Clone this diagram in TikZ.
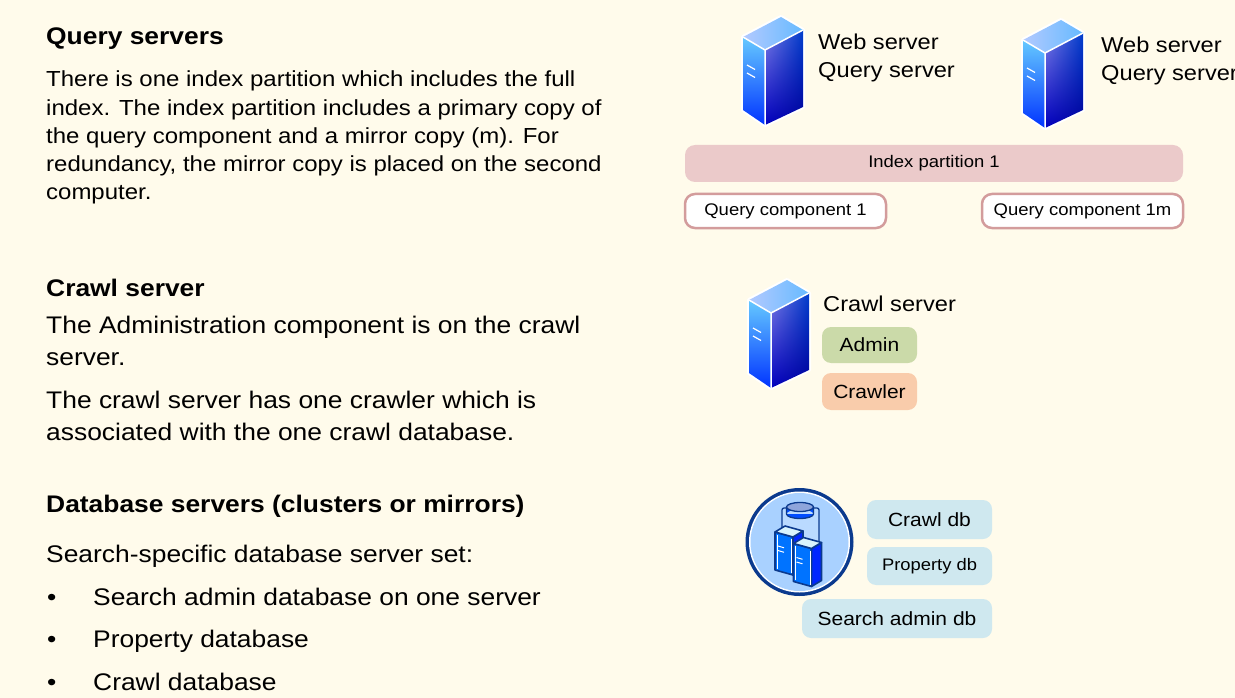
\documentclass[tikz,border=0pt]{standalone}
\usepackage{fontspec}
\setmainfont{Liberation Sans}[FakeStretch=1.1]
\usetikzlibrary{shadings}

\definecolor{paper}{HTML}{FFFBEB}
\definecolor{idxpink}{HTML}{EBCACA}
\definecolor{qcedge}{HTML}{D39C9C}
\definecolor{admingreen}{HTML}{CBDAA9}
\definecolor{crawlerpeach}{HTML}{F9CCAB}
\definecolor{dbblue}{HTML}{CFE8EF}
\definecolor{navy}{HTML}{0B3A8E}
\definecolor{dblight}{HTML}{A9D1FF}

\tikzset{
	heading/.style={anchor=base west, inner sep=0pt, font=\fontsize{24}{28}\selectfont\bfseries},
	smalltext/.style={anchor=base west, inner sep=0pt, font=\fontsize{21.8}{26}\selectfont},
	bigtext/.style={anchor=base west, inner sep=0pt, font=\fontsize{24}{28}\selectfont},
	srvtext/.style={anchor=base west, inner sep=0pt, font=\fontsize{21.5}{26}\selectfont},
	compbox/.style={rounded corners=10pt, inner sep=0pt, font=\fontsize{16.8}{20}\selectfont},
	rolebox/.style={rounded corners=9pt, inner sep=0pt, minimum width=95pt, font=\fontsize{19.1}{22}\selectfont},
	servericon/.pic={
		\draw[white, fill=white, line width=4pt, line join=round] (0,0) -- (38,-20) -- (60,-7) -- (60,70) -- (22,88) -- (0,73) -- cycle;
		\shade[top color=blue!35!cyan!60, bottom color=blue!80!cyan] (0,0) -- (22,13) -- (22,88) -- (0,73) -- cycle;
		\shade[upper left=blue!45!white!90!black, upper right=blue!70!cyan!80!black, lower left=blue!75!black, lower right=blue!60!black] (22,13) -- (60,-7) -- (60,70) -- (22,88) -- cycle;
		\shade[left color=cyan!30!blue!30, right color=cyan!55!blue!60] (0,0) -- (38,-20) -- (60,-7) -- (22,13) -- cycle;
		\draw[white, line width=1.5pt] (0,0) -- (22,13) -- (60,-7) (22,13) -- (22,88);
		\draw[white, line width=1.2pt] (4,28) -- (12,32.5) (4,36) -- (12,40.5);
	}
}

\begin{document}
\begin{tikzpicture}[x=1pt, y=-1pt]
	\useasboundingbox (0,0) rectangle (1235,698);
	\fill[paper] (0,0) rectangle (1235,698);

	% left column
	\node[heading] (qshead) at (46,45) {Query servers};
	\foreach \y/\txt [count=\i] in {87/There is one index partition which includes the full,
			115.25/index. The index partition includes a primary copy of,
			143.5/the query component and a mirror copy (m). For,
			171.75/{redundancy, the mirror copy is placed on the second},
			200/computer.}
		\node[smalltext] (qs\i) at (46,\y) {\txt};

	\node[heading] (cshead) at (46,296) {Crawl server};
	\foreach \y/\txt [count=\i] in {333/The Administration component is on the crawl,
			365/server.,
			408/The crawl server has one crawler which is,
			440/associated with the one crawl database.}
		\node[bigtext] (cs\i) at (46,\y) {\txt};

	\node[heading] (dbhead) at (46,512) {Database servers (clusters or mirrors)};
	\node[bigtext] (dbintro) at (46,562) {Search-specific database server set:};
	\foreach \y/\txt [count=\i] in {605/Search admin database on one server, 647/Property database, 690/Crawl database} {
		\node[bigtext] (dot\i) at (47,\y) {\textbullet};
		\node[bigtext] (db\i) at (93,\y) {\txt};
	}

	% query servers
	\pic (srv1) at (743,37) {servericon};
	\pic (srv2) at (1023,40) {servericon};
	\node[srvtext] (web1) at (818,50) {Web server};
	\node[srvtext] (qry1) at (818,78) {Query server};
	\node[srvtext] (web2) at (1101,53) {Web server};
	\node[srvtext] (qry2) at (1101,81) {Query server};

	\node[compbox, fill=idxpink, minimum width=498pt, minimum height=37pt] (idx) at (934,163.5) {Index partition 1};
	\node[compbox, fill=white, draw=qcedge, line width=2.5pt, minimum width=201pt, minimum height=34pt] (qc1) at (785.5,211) {Query component 1};
	\node[compbox, fill=white, draw=qcedge, line width=2.5pt, minimum width=201pt, minimum height=34pt] (qc1m) at (1082.5,211) {Query component 1m};

	% crawl server
	\pic (srv3) at (749,300) {servericon};
	\node[srvtext] (crawlsrv) at (823,311) {Crawl server};
	\node[rolebox, fill=admingreen, minimum height=36pt] (admin) at (869.5,345) {Admin};
	\node[rolebox, fill=crawlerpeach, minimum height=37pt] (crawler) at (869.5,391.5) {Crawler};

	% database servers
	\fill[navy] (799.5,542) circle (54);
	\fill[white] (799.5,542) circle (50.5);
	\fill[dblight] (799.5,542) circle (49);
	\filldraw[fill=dblight!80!white, draw=navy, line width=1.3pt, rounded corners=2pt] (782,508) rectangle (819,545);
	\fill[blue!70!cyan] (786.5,507) rectangle (813.5,514) (800,514) ellipse (13.5 and 4.5);
	\draw[navy, line width=1.3pt] (786.5,507) -- (786.5,514) arc[start angle=180, end angle=0, x radius=13.5, y radius=4.5] -- (813.5,507);
	\filldraw[fill=cyan!40!blue!45, draw=navy, line width=1.3pt] (800,507) ellipse (13.5 and 4.5);
	\foreach \bx/\by in {775/532, 793.5/543.5} {
		\begin{scope}[shift={(\bx,\by)}]
			\filldraw[fill=blue!55!cyan, draw=navy, line width=1.6pt, line join=round] (0,0) -- (18,5) -- (18,43) -- (0,38) -- cycle;
			\filldraw[fill=blue!85!cyan, draw=navy, line width=1.6pt, line join=round] (18,5) -- (28,-1) -- (28,37) -- (18,43) -- cycle;
			\filldraw[fill=cyan!15!white, draw=navy, line width=1.6pt, line join=round] (0,0) -- (10,-6) -- (28,-1) -- (18,5) -- cycle;
			\draw[white, line width=0.9pt] (2,2.5) -- (2,36.5) (16.5,7) -- (16.5,41);
			\draw[white, line width=1pt] (3,14) -- (9,15.8) (3,18.5) -- (9,20.3);
		\end{scope}
	}
	\node[rolebox, fill=dbblue, minimum width=125pt, minimum height=39pt] (crawldb) at (929.5,519.5) {Crawl db};
	\node[rolebox, fill=dbblue, minimum width=125pt, minimum height=38pt, font=\fontsize{16.7}{20}\selectfont] (propdb) at (929.5,566) {Property db};
	\node[rolebox, fill=dbblue, minimum width=190pt, minimum height=39pt] (admindb) at (897,618.5) {Search admin db};
\end{tikzpicture}
\end{document}
